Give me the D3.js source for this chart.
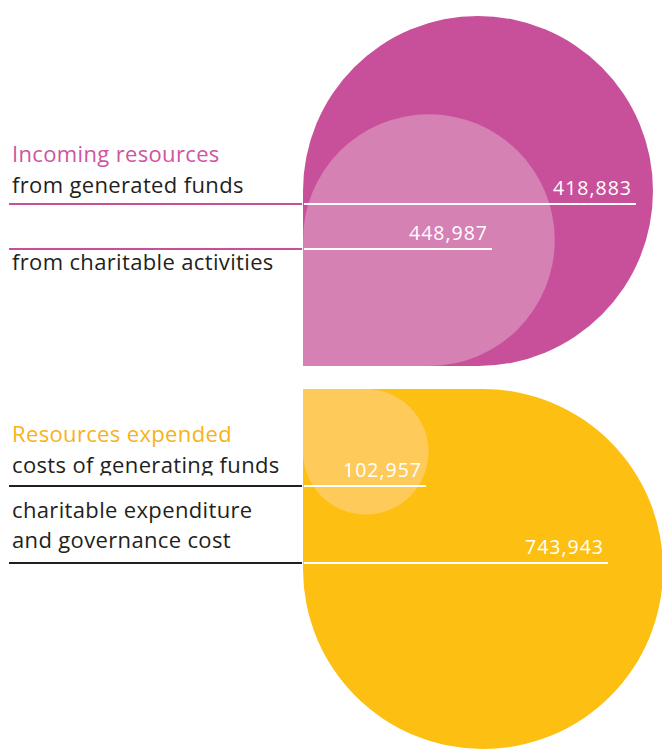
<!DOCTYPE html>
<html>
<head>
<meta charset="utf-8">
<script src="https://cdn.jsdelivr.net/npm/d3@7"></script>
<style>
  html, body { margin: 0; padding: 0; background: #ffffff; }
  svg { display: block; }
</style>
</head>
<body>
<svg id="chart" width="662" height="749"></svg>
<script>
// ---- data ----
const panelTitles = ["Incoming resources", "Resources expended"];
const innerLabels = [["from charitable activities"], ["costs of generating funds"]];
const outerLabels = [["from generated funds"], ["charitable expenditure", "and governance cost"]];
const innerValues = [448987, 102957];
const outerValues = [418883, 743943];

// ---- layout / style ----
const layout = [
  { corner: "bl", x0: 303, y0: 366, R: 175,
    outerC: "#C8509B", innerC: "#D581B4", titleC: "#D0549F", lineC: "#C8509B",
    titleY: 162, outerTextY: [193], innerTextY: [270],
    outerLineY: 204, innerLineY: 249,
    outerValX: 632, innerValX: 488 },
  { corner: "tl", x0: 303, y0: 389, R: 180,
    outerC: "#FDBF12", innerC: "#FECB5B", titleC: "#F8B219", lineC: "#231F20",
    titleY: 442, outerTextY: [518, 548], innerTextY: [473],
    outerLineY: 563, innerLineY: 486,
    outerValX: 604, innerValX: 422 }
];
const textFont = "'Open Sans', 'Noto Sans', sans-serif";
const labelSize = 22, labelSpacing = 0.35;
const valueSize = 19.5, valueSpacing = 1;
const fmt = d3.format(",");

const svg = d3.select("#chart");

function dropPath(corner, x0, y0, r) {
  const p = d3.path();
  if (corner === "bl") {
    const cx = x0 + r, cy = y0 - r;
    p.moveTo(x0, cy);
    p.lineTo(x0, y0);
    p.lineTo(cx, y0);
    p.arc(cx, cy, r, Math.PI / 2, Math.PI, true);
  } else {
    const cx = x0 + r, cy = y0 + r;
    p.moveTo(cx, y0);
    p.lineTo(x0, y0);
    p.lineTo(x0, cy);
    p.arc(cx, cy, r, Math.PI, -Math.PI / 2, true);
  }
  p.closePath();
  return p.toString();
}

const defs = svg.append("defs");

layout.forEach((L, i) => {
  const total = innerValues[i] + outerValues[i];
  const rScale = d3.scaleSqrt().domain([0, total]).range([0, L.R]);
  const g = svg.append("g");

  // outer drop (total)
  g.append("path")
    .attr("d", dropPath(L.corner, L.x0, L.y0, rScale(total)))
    .attr("fill", L.outerC);
  // inner drop
  g.append("path")
    .attr("d", dropPath(L.corner, L.x0, L.y0, rScale(innerValues[i])))
    .attr("fill", L.innerC);

  // title
  g.append("text")
    .attr("x", 12).attr("y", L.titleY)
    .attr("fill", L.titleC)
    .attr("font-family", textFont).attr("font-size", labelSize)
    .attr("letter-spacing", labelSpacing)
    .text(panelTitles[i]);

  // category labels
  const clipId = "clip" + i;
  defs.append("clipPath").attr("id", clipId)
    .append("rect").attr("x", 0).attr("width", 300)
    .attr("y", i === 1 ? L.innerTextY[0] - 30 : 0)
    .attr("height", i === 1 ? 32.5 : 749);

  const catText = (lines, ys, clip) => {
    lines.forEach((t, k) => {
      const tx = g.append("text")
        .attr("x", 12).attr("y", ys[k])
        .attr("fill", "#231F20")
        .attr("font-family", textFont).attr("font-size", labelSize)
        .attr("letter-spacing", labelSpacing)
        .text(t);
      if (clip) tx.attr("clip-path", "url(#" + clipId + ")");
    });
  };
  catText(outerLabels[i], L.outerTextY, false);
  catText(innerLabels[i], L.innerTextY, i === 1);

  // leader lines + values
  const leader = (y, xEnd, value) => {
    g.append("line")
      .attr("x1", 9).attr("x2", L.x0 - 1)
      .attr("y1", y).attr("y2", y)
      .attr("stroke", L.lineC).attr("stroke-width", 2);
    g.append("line")
      .attr("x1", L.x0 + 1).attr("x2", xEnd + 4)
      .attr("y1", y).attr("y2", y)
      .attr("stroke", "#ffffff").attr("stroke-width", 2);
    g.append("text")
      .attr("x", xEnd).attr("y", y - 9)
      .attr("text-anchor", "end")
      .attr("fill", "#ffffff")
      .attr("font-family", textFont).attr("font-size", valueSize)
      .attr("letter-spacing", valueSpacing)
      .text(fmt(value));
  };
  leader(L.outerLineY, L.outerValX, outerValues[i]);
  leader(L.innerLineY, L.innerValX, innerValues[i]);
});
</script>
</body>
</html>
